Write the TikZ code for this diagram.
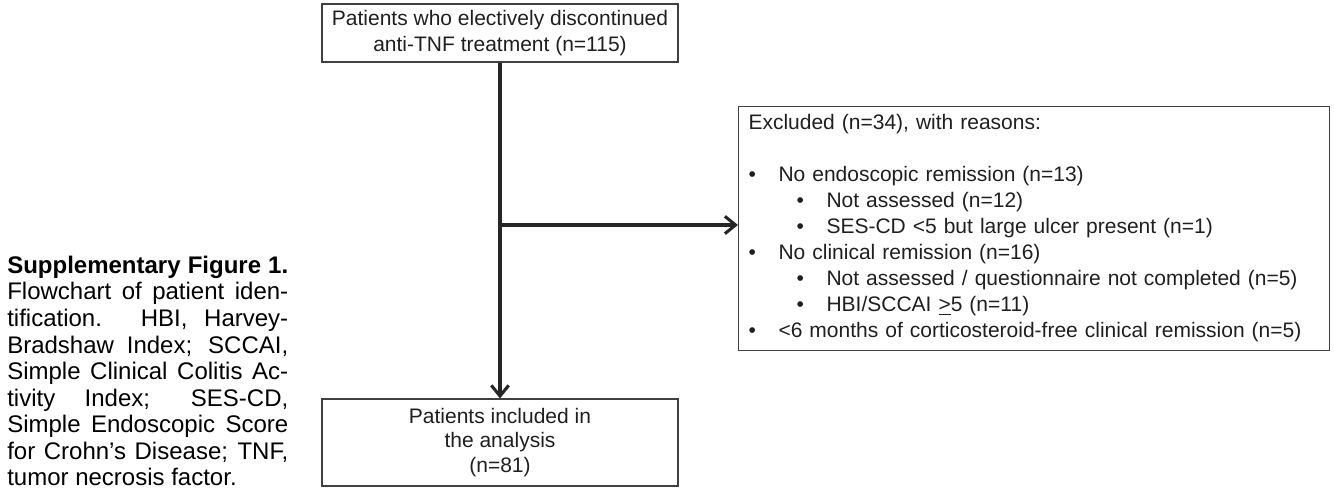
\documentclass[tikz,border=0pt]{standalone}
\usepackage{fontspec}
\setmainfont{Liberation Sans}
\usetikzlibrary{arrows.meta}

\newcommand{\bul}{\makebox[22.5pt][l]{•}}
\newcommand{\subbul}{\hspace*{36pt}\makebox[22.5pt][l]{•}}
\newcommand{\capline}[1]{\makebox[210.75pt][s]{#1}}

\begin{document}
\begin{tikzpicture}[x=0.75pt,y=-0.75pt,
  box/.style={draw=black!75,line width=0.8pt,inner sep=0pt,align=center,text=black!88,font=\fontsize{15.75}{19.5}\selectfont},
  flow/.style={line width=2.3pt,draw=black!85,-{Straight Barb[length=8pt,width=13pt]}}]
\useasboundingbox (0,0) rectangle (1334,489);

\node[box,minimum width=267pt,minimum height=43.5pt] (top) at (500,33) {Patients who electively discontinued\\anti-TNF treatment (n=115)};
\node[box,minimum width=267pt,minimum height=65.25pt,font=\fontsize{15.75}{18.4}\selectfont] (incl) at (500,442.5) {Patients included in\\the analysis\\(n=81)};
\node[box,anchor=north west,align=left,inner xsep=7.5pt,text width=428.25pt,minimum height=183pt] (excl) at (738,106) {Excluded (n=34), with reasons:\\[19.5pt]
\bul No endoscopic remission (n=13)\\
\subbul Not assessed (n=12)\\
\subbul SES-CD <5 but large ulcer present (n=1)\\
\bul No clinical remission (n=16)\\
\subbul Not assessed / questionnaire not completed (n=5)\\
\subbul HBI/SCCAI \underline{>}5 (n=11)\\
\bul <6 months of corticosteroid-free clinical remission (n=5)};

\node[anchor=west,inner sep=0pt,align=left,font=\fontsize{18}{19.9}\selectfont] (caption) at (7,371) {\capline{\bfseries Supplementary Figure 1.}\\
\capline{Flowchart of patient iden-}\\
\capline{tification. HBI, Harvey-}\\
\capline{Bradshaw Index; SCCAI,}\\
\capline{Simple Clinical Colitis Ac-}\\
\capline{tivity Index; SES-CD,}\\
\capline{Simple Endoscopic Score}\\
\capline{for Crohn's Disease; TNF,}\\
tumor necrosis factor.};

\coordinate (split) at (500,225);
\draw[flow] (top) -- (incl);
\draw[flow] (split) -- (excl.west |- split);

\end{tikzpicture}
\end{document}
